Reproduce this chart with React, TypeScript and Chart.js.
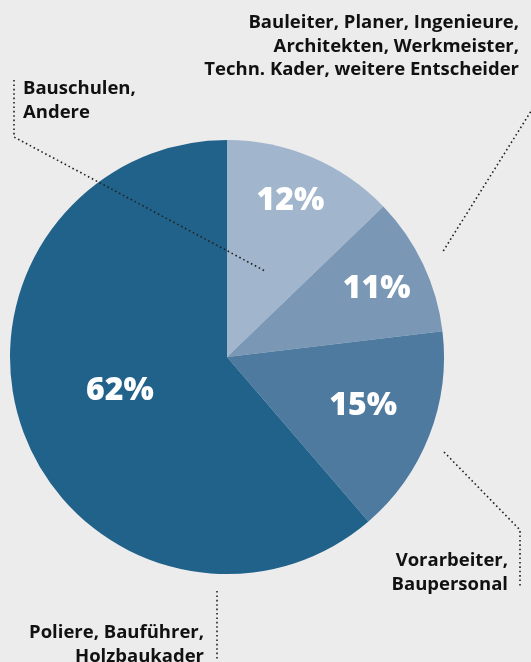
import React, { useEffect, useRef } from "react";
import { Chart, registerables } from "chart.js";

Chart.register(...registerables);

const categories = [
  "Bauleiter, Planer, Ingenieure, Architekten, Werkmeister, Techn. Kader, weitere Entscheider",
  "Vorarbeiter, Baupersonal",
  "Poliere, Bauführer, Holzbaukader",
  "Bauschulen, Andere",
];
const sliceValues = [12.8, 10.3, 15.6, 61.3];
// printed percentage labels
const percentLabels = ["12%", "11%", "15%", "62%"];
const sliceColors = ["#a1b5cd", "#7a97b5", "#4e7a9f", "#21628b"];

// label placement inside slices: [angle offset from mid (deg), radius fraction]
const innerLabelPlacement: [number, number][] = [
  [-1, 0.78],
  [0.5, 0.76],
  [-2, 0.665],
  [3.4, 0.516],
];

type Callout = { lines: string[]; x: number; y: number; path: [number, number][] };
const callouts: Callout[] = [
  {
    lines: ["Bauleiter, Planer, Ingenieure,", "Architekten, Werkmeister,", "Techn. Kader, weitere Entscheider"],
    x: 519,
    y: 28,
    path: [
      [533, 108],
      [442, 253],
    ],
  },
  {
    lines: ["Bauschulen,", "Andere"],
    x: 23,
    y: 94,
    path: [
      [14, 80],
      [14, 137],
      [265, 271],
    ],
  },
  {
    lines: ["Vorarbeiter,", "Baupersonal"],
    x: 508,
    y: 566,
    path: [
      [444, 452],
      [520, 530],
      [520, 586],
    ],
  },
  {
    lines: ["Poliere, Bauführer,", "Holzbaukader"],
    x: 204,
    y: 638,
    path: [
      [217, 591],
      [217, 661],
    ],
  },
];
const calloutAlign: CanvasTextAlign[] = ["right", "left", "right", "right"];

const labelPlugin = {
  id: "labelPlugin",
  afterDatasetsDraw(chart: any) {
    const ctx: CanvasRenderingContext2D = chart.ctx;
    const meta = chart.getDatasetMeta(0);
    ctx.save();
    // inner percent labels
    ctx.fillStyle = "#ffffff";
    ctx.font = "800 32px 'Open Sans'";
    ctx.textAlign = "center";
    ctx.textBaseline = "middle";
    meta.data.forEach((arc: any, i: number) => {
      const p = arc.getProps(["x", "y", "startAngle", "endAngle", "outerRadius"], true);
      const [off, rf] = innerLabelPlacement[i];
      const mid = (p.startAngle + p.endAngle) / 2 + (off * Math.PI) / 180;
      const r = p.outerRadius * rf;
      ctx.fillText(percentLabels[i], p.x + Math.cos(mid) * r, p.y + Math.sin(mid) * r + 1);
    });
    // callouts
    ctx.fillStyle = "#111111";
    ctx.strokeStyle = "#222222";
    ctx.lineWidth = 1.6;
    ctx.setLineDash([1.6, 2.8]);
    callouts.forEach((c, i) => {
      ctx.beginPath();
      c.path.forEach(([x, y], j) => (j === 0 ? ctx.moveTo(x, y) : ctx.lineTo(x, y)));
      ctx.stroke();
      ctx.font = "bold 18.5px 'Open Sans'";
      ctx.textAlign = calloutAlign[i];
      ctx.textBaseline = "alphabetic";
      c.lines.forEach((line, k) => ctx.fillText(line, c.x, c.y + k * 23.5));
    });
    ctx.restore();
  },
};

export default function App() {
  const ref = useRef<HTMLCanvasElement | null>(null);
  useEffect(() => {
    if (!ref.current) return;
    const chart = new Chart(ref.current, {
      type: "pie",
      data: {
        labels: categories,
        datasets: [
          {
            data: sliceValues,
            backgroundColor: sliceColors,
            borderWidth: 0,
          },
        ],
      },
      options: {
        animation: false,
        responsive: false,
        layout: { padding: { left: 10, right: 87, top: 140, bottom: 88 } },
        plugins: { legend: { display: false }, tooltip: { enabled: false } },
      },
      plugins: [labelPlugin],
    });
    return () => chart.destroy();
  }, []);
  return (
    <div style={{ position: "fixed", left: 0, top: 0, width: 531, height: 662, background: "#ececec" }}>
      <canvas ref={ref} width={531} height={662} style={{ width: 531, height: 662, display: "block" }} />
    </div>
  );
}
